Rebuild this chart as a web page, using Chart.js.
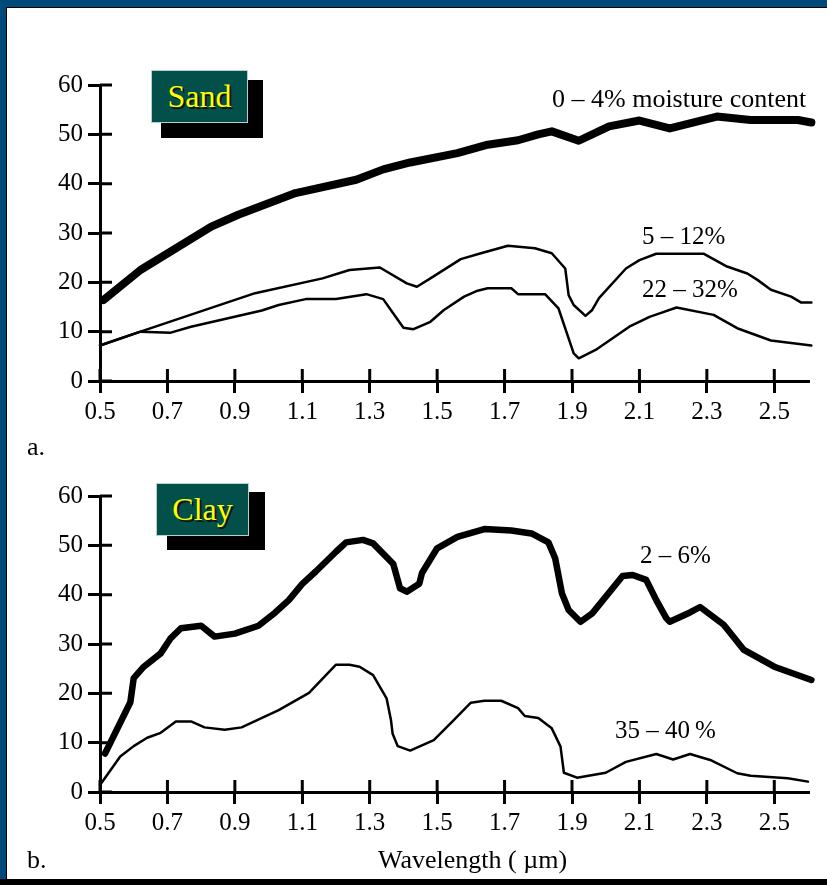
<!DOCTYPE html>
<html>
<head>
<meta charset="utf-8">
<script src="https://cdn.jsdelivr.net/npm/chart.js@4.4.1/dist/chart.umd.min.js"></script>
<style>
  body { margin: 0; width: 827px; height: 885px; overflow: hidden; background: #fff;
         font-family: 'Liberation Serif', 'Times New Roman', serif; }
  .abs { position: absolute; }
  #frame { left: 0; top: 0; width: 827px; height: 885px; background: #004a7a; }
  #paper { left: 6px; top: 7px; width: 821px; height: 871px; background: #fff;
           border-top: 1px solid #000; border-left: 1px solid #000; }
  #footer { left: 0; top: 879px; width: 827px; height: 6px; background: #000; }
  .shadow { background: #000; }
  .tag { background: #03504a; border: 1px solid #b8d0cc; box-sizing: border-box;
         color: #ffff00; font-size: 32px; line-height: 51px; text-align: center;
         text-shadow: 2px 2px 0 #111; }
  .lbl { font-size: 26px; line-height: 26px; color: #000; white-space: nowrap; }
  canvas { position: absolute; left: 0; }
</style>
</head>
<body>
<div id="frame" class="abs"></div>
<div id="paper" class="abs"></div>
<div id="footer" class="abs"></div>

<canvas id="sandChart" width="827" height="440" style="top:0"></canvas>
<canvas id="clayChart" width="827" height="445" style="top:440px"></canvas>

<div class="abs shadow" style="left:161px;top:80px;width:102px;height:58px"></div>
<div class="abs tag" style="left:151px;top:70px;width:97px;height:53px">Sand</div>
<div class="abs shadow" style="left:167px;top:492px;width:98px;height:58px"></div>
<div class="abs tag" style="left:156px;top:483px;width:93px;height:53px">Clay</div>

<div class="abs lbl" style="left:552px;top:86px">0 – 4% moisture content</div>
<div class="abs lbl" style="left:642px;top:223px;font-size:25px">5 – 12%</div>
<div class="abs lbl" style="left:642px;top:276px;font-size:25px">22 – 32%</div>
<div class="abs lbl" style="left:640px;top:542px;font-size:25px">2 – 6%</div>
<div class="abs lbl" style="left:615px;top:717px;font-size:25px">35 – 40&#8201;%</div>
<div class="abs lbl" style="left:27px;top:434px">a.</div>
<div class="abs lbl" style="left:27px;top:847px">b.</div>
<div class="abs lbl" style="left:378px;top:847px">Wavelength ( µm)</div>

<script>
// tick labels
const xTicks = [0.5, 0.7, 0.9, 1.1, 1.3, 1.5, 1.7, 1.9, 2.1, 2.3, 2.5];
const yTicks = [0, 10, 20, 30, 40, 50, 60];

// Sand, 0 - 4% moisture
const sandDryX = [0.51, 0.62, 0.83, 0.91, 1.08, 1.26, 1.34, 1.42, 1.56, 1.65, 1.74, 1.80, 1.84, 1.92, 2.01, 2.10, 2.19, 2.33, 2.43, 2.57, 2.61, 2.63];
const sandDryY = [16.4, 22.5, 31.3, 33.7, 38.1, 40.8, 42.9, 44.3, 46.2, 47.9, 48.8, 50.0, 50.6, 48.7, 51.6, 52.8, 51.2, 53.6, 52.9, 52.9, 52.4, 51.2];

// Sand, 5 - 12%
const sandMidX = [0.50, 0.62, 0.96, 1.16, 1.24, 1.33, 1.41, 1.44, 1.48, 1.57, 1.63, 1.71, 1.79, 1.84, 1.88, 1.89, 1.905, 1.94, 1.96, 1.98, 2.06, 2.10, 2.15, 2.29, 2.36, 2.42, 2.45, 2.49, 2.55, 2.58, 2.61, 2.625];
const sandMidY = [7.2, 10.0, 17.8, 20.8, 22.5, 23.0, 19.8, 19.1, 20.8, 24.7, 25.9, 27.4, 26.9, 25.9, 22.8, 17.4, 15.4, 13.2, 14.4, 16.8, 22.8, 24.5, 25.8, 25.8, 23.2, 21.8, 20.5, 18.5, 17.1, 15.9, 15.9, 15.1];

// Sand, 22 - 32%
const sandWetX = [0.50, 0.62, 0.71, 0.77, 0.98, 1.03, 1.11, 1.20, 1.29, 1.34, 1.37, 1.40, 1.43, 1.48, 1.52, 1.58, 1.62, 1.65, 1.72, 1.74, 1.82, 1.86, 1.905, 1.92, 1.97, 2.07, 2.13, 2.16, 2.21, 2.32, 2.39, 2.49, 2.61];
const sandWetY = [7.2, 10.0, 9.8, 11.0, 14.3, 15.4, 16.6, 16.6, 17.6, 16.6, 13.7, 10.8, 10.5, 12.0, 14.4, 17.1, 18.3, 18.8, 18.8, 17.6, 17.6, 14.7, 5.6, 4.6, 6.3, 11.0, 13.0, 13.7, 14.9, 13.4, 10.7, 8.2, 7.2];

// Clay, 2 - 6%
const clayDryX = [0.515, 0.59, 0.60, 0.63, 0.68, 0.71, 0.74, 0.80, 0.84, 0.90, 0.97, 1.02, 1.06, 1.10, 1.14, 1.20, 1.23, 1.28, 1.31, 1.37, 1.39, 1.41, 1.447, 1.455, 1.50, 1.56, 1.64, 1.72, 1.78, 1.83, 1.85, 1.87, 1.89, 1.925, 1.96, 2.05, 2.08, 2.12, 2.15, 2.18, 2.19, 2.25, 2.28, 2.35, 2.41, 2.50, 2.61];
const clayDryY = [7.8, 18.2, 23.1, 25.4, 28.1, 31.2, 33.2, 33.7, 31.5, 32.1, 33.7, 36.4, 38.9, 42.2, 44.7, 48.7, 50.6, 51.1, 50.4, 46.2, 41.3, 40.6, 42.2, 44.4, 49.4, 51.7, 53.3, 53.0, 52.4, 50.6, 47.4, 40.3, 36.9, 34.5, 36.2, 43.8, 44.0, 43.0, 38.9, 35.2, 34.5, 36.4, 37.5, 33.9, 28.8, 25.4, 22.7];

// Clay, 35 - 40%
const clayWetX = [0.50, 0.56, 0.60, 0.64, 0.68, 0.725, 0.77, 0.81, 0.87, 0.92, 1.03, 1.12, 1.20, 1.24, 1.27, 1.31, 1.35, 1.363, 1.368, 1.383, 1.42, 1.49, 1.55, 1.60, 1.64, 1.69, 1.74, 1.76, 1.80, 1.84, 1.866, 1.876, 1.915, 2.00, 2.06, 2.15, 2.20, 2.25, 2.31, 2.39, 2.43, 2.54, 2.60];
const clayWetY = [1.4, 7.2, 9.3, 11.0, 12.0, 14.3, 14.3, 13.1, 12.6, 13.1, 16.6, 20.1, 25.8, 25.8, 25.4, 23.7, 19.0, 14.6, 11.8, 9.3, 8.4, 10.5, 14.6, 18.1, 18.5, 18.5, 17.0, 15.4, 15.0, 12.9, 9.2, 3.9, 2.9, 3.9, 6.1, 7.7, 6.6, 7.7, 6.5, 3.8, 3.3, 2.8, 2.1];

const pairs = (xs, ys) => xs.map((x, i) => ({ x: x, y: ys[i] }));

const tickFont = { family: "'Liberation Serif', 'Times New Roman', serif", size: 25 };

// tick marks cross the axis: Chart.js draws the outer half, this draws the inner half
const innerTicks = {
    id: 'innerTicks',
    beforeDatasetsDraw(chart) {
        const { ctx, chartArea } = chart;
        const x = chart.scales.x, y = chart.scales.y;
        ctx.save();
        ctx.strokeStyle = '#000';
        ctx.lineWidth = 3;
        ctx.beginPath();
        x.ticks.forEach(t => {
            const px = x.getPixelForValue(t.value);
            ctx.moveTo(px, chartArea.bottom);
            ctx.lineTo(px, chartArea.bottom - 12);
        });
        y.ticks.forEach(t => {
            const py = y.getPixelForValue(t.value);
            ctx.moveTo(chartArea.left, py);
            ctx.lineTo(chartArea.left + 12, py);
        });
        ctx.stroke();
        ctx.restore();
    }
};

function line(xs, ys, width) {
    return {
        data: pairs(xs, ys),
        borderColor: '#000',
        borderWidth: width,
        pointRadius: 0,
        fill: false,
        tension: 0,
        borderJoinStyle: 'round',
        borderCapStyle: 'round',
        clip: false
    };
}

function makeChart(id, datasets, padTop, padBottom) {
    const ctx = document.getElementById(id).getContext('2d');
    return new Chart(ctx, {
        type: 'line',
        data: { datasets: datasets },
        options: {
            responsive: false,
            animation: false,
            layout: { padding: { left: 40, right: 19, top: padTop, bottom: padBottom } },
            plugins: { legend: { display: false }, tooltip: { enabled: false } },
            scales: {
                x: {
                    type: 'linear',
                    min: 0.5,
                    max: 2.6,
                    afterBuildTicks: s => { s.ticks = xTicks.map(v => ({ value: v })); },
                    afterFit: s => { s.height = 50; },
                    ticks: {
                        autoSkip: false,
                        maxRotation: 0,
                        padding: 4,
                        color: '#000',
                        font: tickFont,
                        callback: v => v.toFixed(1)
                    },
                    grid: { drawOnChartArea: false, tickLength: 12, lineWidth: 3, tickWidth: 3, tickColor: '#000' },
                    border: { display: true, color: '#000', width: 3 }
                },
                y: {
                    min: 0,
                    max: 60,
                    afterBuildTicks: s => { s.ticks = yTicks.map(v => ({ value: v })); },
                    afterFit: s => { s.width = 60; },
                    ticks: {
                        padding: 5,
                        color: '#000',
                        font: tickFont,
                        callback: v => String(v)
                    },
                    grid: { drawOnChartArea: false, tickLength: 12, lineWidth: 3, tickWidth: 3, tickColor: '#000' },
                    border: { display: true, color: '#000', width: 3 }
                }
            }
        },
        plugins: [innerTicks]
    });
}

makeChart('sandChart', [
    line(sandDryX, sandDryY, 8),
    line(sandMidX, sandMidY, 2.5),
    line(sandWetX, sandWetY, 2.5)
], 85, 9);

makeChart('clayChart', [
    line(clayDryX, clayDryY, 6.5),
    line(clayWetX, clayWetY, 2.5)
], 56, 43);
</script>
</body>
</html>
